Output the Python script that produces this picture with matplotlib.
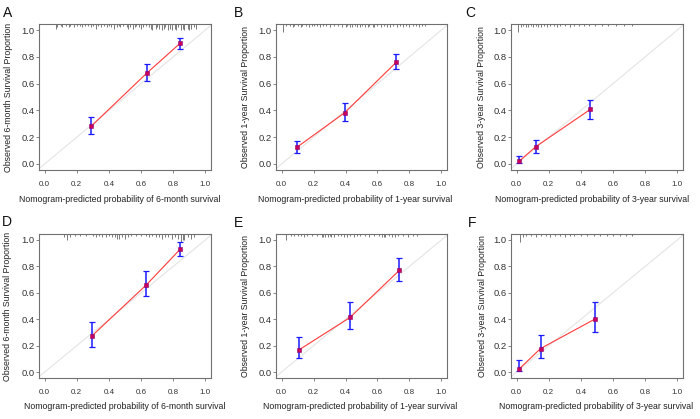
import matplotlib
matplotlib.use("Agg")
import matplotlib.pyplot as plt

# ---------------- data ----------------
panel_letters = ["A", "B", "C", "D", "E", "F"]
periods = ["6-month", "1-year", "3-year", "6-month", "1-year", "3-year"]

pred_A = [0.29, 0.637, 0.842]
obs_A = [0.282, 0.680, 0.900]
lo_A = [0.225, 0.617, 0.862]
hi_A = [0.352, 0.748, 0.943]

pred_B = [0.096, 0.395, 0.718]
obs_B = [0.125, 0.383, 0.760]
lo_B = [0.083, 0.320, 0.708]
hi_B = [0.175, 0.458, 0.823]

pred_C = [0.017, 0.120, 0.459]
obs_C = [0.022, 0.130, 0.408]
lo_C = [0.005, 0.080, 0.338]
hi_C = [0.062, 0.180, 0.480]

pred_D = [0.292, 0.632, 0.842]
obs_D = [0.271, 0.659, 0.928]
lo_D = [0.189, 0.572, 0.878]
hi_D = [0.376, 0.766, 0.983]

pred_E = [0.109, 0.428, 0.737]
obs_E = [0.168, 0.413, 0.770]
lo_E = [0.103, 0.325, 0.688]
hi_E = [0.263, 0.533, 0.863]

pred_F = [0.017, 0.149, 0.490]
obs_F = [0.025, 0.178, 0.403]
lo_F = [0.008, 0.108, 0.303]
hi_F = [0.090, 0.283, 0.533]

# spike histogram of predicted values (position, relative count)
spk_x_A = [0.07, 0.08, 0.10, 0.11, 0.13, 0.15, 0.16, 0.18, 0.20, 0.22, 0.23, 0.25, 0.27,
           0.29, 0.30, 0.32, 0.33, 0.35, 0.37, 0.39, 0.40, 0.41, 0.43, 0.45, 0.46, 0.47,
           0.49, 0.51, 0.52, 0.53, 0.55, 0.56, 0.57, 0.59, 0.60, 0.61, 0.63, 0.65, 0.66,
           0.67, 0.69, 0.70, 0.71, 0.73, 0.74, 0.75, 0.77, 0.78, 0.79, 0.81, 0.82, 0.83,
           0.85, 0.86, 0.87, 0.89, 0.90, 0.91, 0.93, 0.94]
spk_h_A = [3, 2, 1, 2, 1, 2, 1, 2, 1, 1, 2, 1, 1, 2, 1, 3, 1, 2, 1, 2, 1, 2, 3, 2, 1, 2,
           1, 2, 3, 2, 3, 2, 1, 2, 3, 2, 1, 2, 3, 4, 3, 2, 3, 4, 3, 2, 4, 3, 4, 3, 4, 2,
           4, 3, 4, 3, 4, 3, 2, 3]

spk_x_B = [0.01, 0.03, 0.05, 0.07, 0.08, 0.10, 0.12, 0.13, 0.15, 0.17, 0.19, 0.20, 0.22,
           0.24, 0.26, 0.28, 0.30, 0.33, 0.35, 0.38, 0.40, 0.41, 0.43, 0.44, 0.46, 0.47,
           0.49, 0.50, 0.52, 0.54, 0.55, 0.57, 0.58, 0.60, 0.62, 0.64, 0.66, 0.68, 0.70,
           0.72, 0.74, 0.76, 0.78, 0.80, 0.82, 0.84, 0.86, 0.88, 0.90]
spk_h_B = [5, 1, 1, 2, 1, 1, 2, 1, 1, 2, 1, 1, 1, 2, 1, 1, 2, 1, 1, 2, 2, 1, 2, 2, 1, 2,
           2, 1, 2, 2, 1, 2, 2, 1, 2, 1, 2, 2, 1, 2, 1, 2, 1, 2, 1, 1, 2, 1, 1]

spk_x_C = [0.01, 0.03, 0.04, 0.06, 0.07, 0.09, 0.10, 0.12, 0.13, 0.15, 0.17, 0.19, 0.21,
           0.23, 0.25, 0.27, 0.30, 0.33, 0.36, 0.39, 0.42, 0.45, 0.49, 0.53, 0.57, 0.62,
           0.67, 0.72]
spk_h_C = [5, 2, 1, 2, 2, 1, 2, 1, 2, 2, 1, 2, 1, 1, 2, 1, 1, 2, 1, 1, 1, 1, 1, 1, 1, 1,
           1, 1]

spk_x_D = [0.12, 0.14, 0.16, 0.19, 0.22, 0.26, 0.30, 0.32, 0.34, 0.36, 0.38, 0.40, 0.42,
           0.44, 0.45, 0.46, 0.48, 0.50, 0.52, 0.54, 0.57, 0.60, 0.63, 0.65, 0.67, 0.69,
           0.71, 0.73, 0.75, 0.77, 0.79, 0.81, 0.83, 0.85, 0.86, 0.87, 0.89, 0.91, 0.93]
spk_h_D = [2, 4, 2, 1, 1, 1, 1, 2, 1, 2, 2, 1, 2, 2, 3, 3, 2, 3, 2, 1, 1, 1, 1, 2, 1, 2,
           2, 3, 2, 2, 3, 2, 3, 5, 4, 4, 2, 3, 2]

spk_x_E = [0.03, 0.06, 0.08, 0.10, 0.12, 0.14, 0.16, 0.19, 0.22, 0.25, 0.26, 0.27, 0.29,
           0.30, 0.31, 0.33, 0.35, 0.37, 0.39, 0.41, 0.43, 0.45, 0.47, 0.49, 0.52, 0.55,
           0.58, 0.61, 0.63, 0.64, 0.65, 0.67, 0.69, 0.71, 0.73, 0.76, 0.79, 0.82, 0.85]
spk_h_E = [4, 1, 1, 1, 1, 2, 1, 1, 1, 2, 2, 2, 2, 1, 2, 2, 1, 1, 2, 2, 1, 2, 1, 1, 1, 2,
           1, 1, 2, 2, 2, 1, 2, 2, 1, 1, 2, 1, 1]

spk_x_F = [0.02, 0.04, 0.06, 0.09, 0.12, 0.15, 0.18, 0.21, 0.24, 0.27, 0.30, 0.33, 0.36,
           0.40, 0.44, 0.48, 0.52, 0.56, 0.60, 0.64, 0.68, 0.72]
spk_h_F = [5, 2, 1, 1, 2, 1, 1, 2, 1, 1, 2, 1, 1, 1, 1, 1, 1, 1, 1, 1, 1, 1]

ticks = [0.0, 0.2, 0.4, 0.6, 0.8, 1.0]
tick_labels = ["0.0", "0.2", "0.4", "0.6", "0.8", "1.0"]

panels = [
    (pred_A, obs_A, lo_A, hi_A, spk_x_A, spk_h_A),
    (pred_B, obs_B, lo_B, hi_B, spk_x_B, spk_h_B),
    (pred_C, obs_C, lo_C, hi_C, spk_x_C, spk_h_C),
    (pred_D, obs_D, lo_D, hi_D, spk_x_D, spk_h_D),
    (pred_E, obs_E, lo_E, hi_E, spk_x_E, spk_h_E),
    (pred_F, obs_F, lo_F, hi_F, spk_x_F, spk_h_F),
]

# ---------------- layout (pixels) ----------------
W, H = 700, 419
cols = [(39, 211), (276, 447), (511, 683)]
rows = [(24, 170), (234, 378)]
xlab_cx = [120, 355, 592, 125, 360, 596]
xlab_cy = [199, 200, 199.5, 406.5, 406.5, 406.5]
ylab_cx = [8.5, 246, 482, 8, 246, 482.5]
letter_xy = [(3, 13), (234, 13), (465, 13), (2, 222), (234, 223), (468, 223)]

plt.rcParams['font.family'] = ['Liberation Sans', 'DejaVu Sans']
fig = plt.figure(figsize=(W / 100, H / 100), dpi=100)

XL = (-0.035, 1.035)
YL = (-0.045, 1.045)

for i, (pr, ob, lo, hi, sx, sh) in enumerate(panels):
    r, c = divmod(i, 3)
    L, R = cols[c]
    T, B = rows[r]
    ax = fig.add_axes([L / W, 1 - B / H, (R - L) / W, (B - T) / H])
    ax.set_xlim(*XL)
    ax.set_ylim(*YL)
    # diagonal reference
    ax.plot([-0.1, 1.1], [-0.1, 1.1], color='#e4e4e4', lw=0.8, zorder=1)
    # spike histogram at top
    for x, h in zip(sx, sh):
        ax.plot([x, x], [YL[1], YL[1] - h * 0.012], color='#7a7a7a', lw=0.7,
                zorder=2, solid_capstyle='butt')
    # calibration line
    ax.plot(pr, ob, color='#ff3a3a', lw=0.8, zorder=3)
    # error bars
    yerr = [[o - l for o, l in zip(ob, lo)], [h - o for o, h in zip(ob, hi)]]
    ax.errorbar(pr, ob, yerr=yerr, fmt='none', ecolor='#1a1aff', elinewidth=1.1,
                capsize=2.2, capthick=0.9, zorder=4)
    ax.plot(pr, ob, linestyle='none', marker='s', markersize=3.2,
            markerfacecolor='#c8005a', markeredgecolor='#8a0070', markeredgewidth=0.4,
            zorder=5)
    # axes styling
    for sp in ax.spines.values():
        sp.set_color('#707070')
        sp.set_linewidth(0.8)
    ax.set_xticks(ticks)
    ax.set_xticklabels(tick_labels)
    ax.set_yticks(ticks)
    ax.set_yticklabels(tick_labels)
    ax.tick_params(axis='x', length=2.5, width=0.6, color='#707070', pad=5.2,
                   labelsize=5.8, labelcolor='#333333')
    ax.tick_params(axis='y', length=2.2, width=0.6, color='#707070', pad=0.8,
                   labelsize=6.8, labelcolor='#333333')
    # labels
    fig.text(xlab_cx[i] / W, 1 - xlab_cy[i] / H,
             "Nomogram-predicted probability of %s survival" % periods[i],
             ha='center', va='center', fontsize=6.3, color='#222222')
    fig.text(ylab_cx[i] / W, 1 - ((T + B) / 2) / H,
             "Observed %s Survival Proportion" % periods[i],
             ha='center', va='center', rotation=90, fontsize=6.3, color='#222222')
    lx, ly = letter_xy[i]
    fig.text(lx / W, 1 - ly / H, panel_letters[i], ha='left', va='center',
             fontsize=10, color='#111111')

fig.savefig("out.png", dpi=100)
